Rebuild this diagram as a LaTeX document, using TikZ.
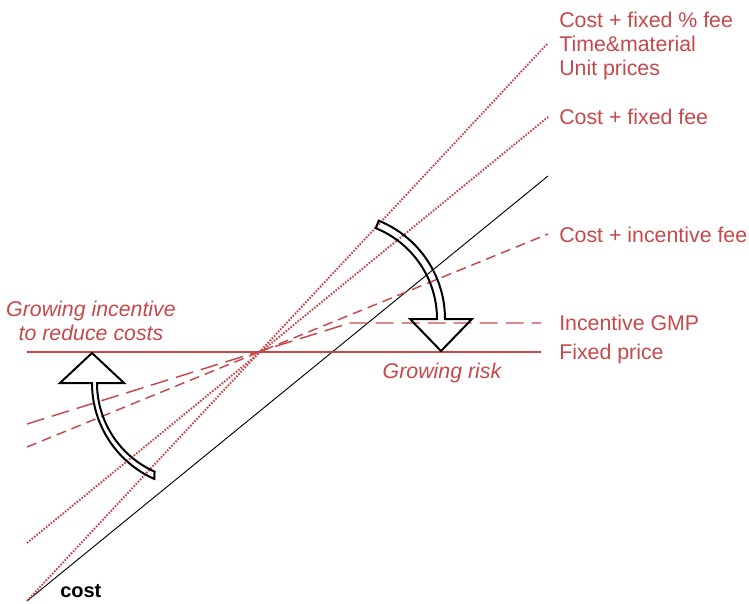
\documentclass[tikz,border=0pt]{standalone}
\usepackage{fontspec}
\setmainfont{Liberation Sans}
\usetikzlibrary{calc}
\definecolor{riskred}{RGB}{199,72,74}

\begin{document}
\begin{tikzpicture}
[x=0.75pt,y=-0.75pt,%
  every node/.style={inner sep=0pt,font=\fontsize{16}{18}\selectfont},%
  curvelabel/.style={anchor=base west,text=riskred},%
  remark/.style={align=center,text=riskred,font=\fontsize{16}{18}\selectfont\itshape},%
  turn/.style={draw=black,line width=1.5pt,line join=miter},%
  costline/.style={black,line width=0.7pt},%
  fixline/.style={riskred,line width=1.1pt},%
  dotline/.style={riskred,line width=1.5pt,dash pattern=on 1.2pt off 1.1pt},%
  shortdash/.style={riskred,line width=1.1pt,dash pattern=on 7.5pt off 4.5pt},%
  longdash/.style={riskred,line width=1.1pt,dash pattern=on 13.5pt off 6pt}]
\useasboundingbox (0,0) rectangle (749,603);
%% end points of the lines
\coordinate (origin) at (27,601);
\coordinate (costEnd) at (548,176);
\coordinate (pctEnd) at (548,43);
\coordinate (feeStart) at (27,543);
\coordinate (feeEnd) at (548,117);
\coordinate (incStart) at (27,447);
\coordinate (incEnd) at (548,234);
\coordinate (gmpStart) at (27,424);
\coordinate (gmpKnee) at (350,323);
\coordinate (gmpEnd) at (541,323);
\coordinate (fixStart) at (27,352);
\coordinate (fixEnd) at (541,352);
%%
\path
\foreach \startNode/\endNode/\lineStyle in {origin/costEnd/costline, origin/pctEnd/dotline,
  feeStart/feeEnd/dotline, incStart/incEnd/shortdash, fixStart/fixEnd/fixline}
{
  (\startNode) edge[\lineStyle] (\endNode)
};
\draw[longdash] (gmpStart) -- (gmpKnee) -- (gmpEnd);
%% curved arrows
\coordinate (up) at (197,383);
\draw[turn] ($(up)+(114:105)$) arc[start angle=114,end angle=180,radius=105]
  -- (60,383) -- (92,353) -- (124,383) -- (97,383)
  arc[start angle=180,end angle=114,radius=97] -- cycle;
\coordinate (down) at (339,319);
\draw[turn] ($(down)+(-68:106)$) arc[start angle=-68,end angle=0,radius=106]
  -- (472,319) -- (441,351) -- (410,319) -- (437,319)
  arc[start angle=0,end angle=-68,radius=98] -- cycle;
%% labels
\node[curvelabel] (pct) at (559,27) {Cost + fixed \% fee};
\node[curvelabel] (tm) at (559,51) {Time\&material};
\node[curvelabel] (unit) at (559,75) {Unit prices};
\node[curvelabel] (fee) at (559,124) {Cost + fixed fee};
\node[curvelabel] (inc) at (559,242) {Cost + incentive fee};
\node[curvelabel] (gmp) at (559,330) {Incentive GMP};
\node[curvelabel] (fix) at (559,359) {Fixed price};
\node[remark,anchor=base] (risk) at (442,378) {Growing risk};
\node[remark,anchor=base] (incentive) at (91,340) {Growing incentive\\to reduce costs};
\node[anchor=base west,font=\fontsize{15}{18}\selectfont\bfseries] (cost) at (60,597) {cost};
\end{tikzpicture}
\end{document}
